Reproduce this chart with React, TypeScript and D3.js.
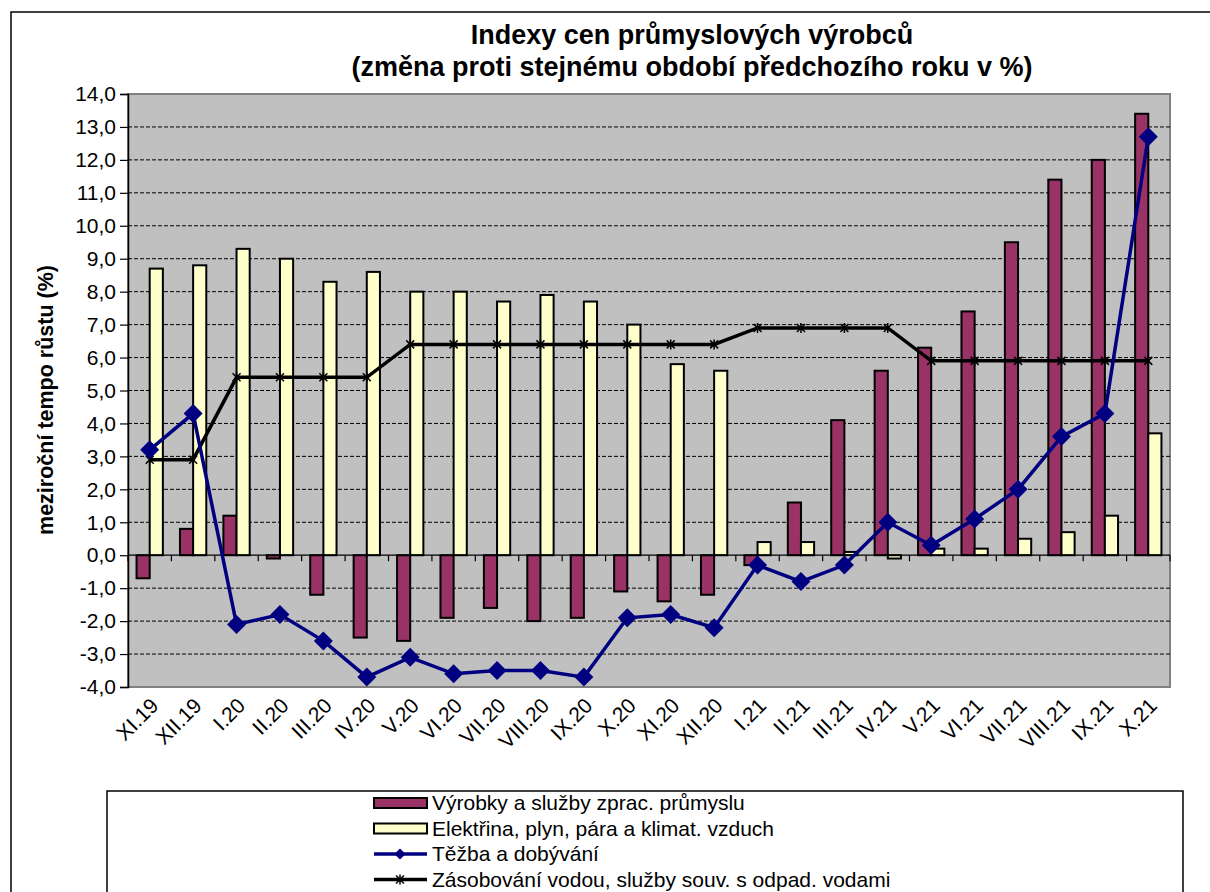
import { useEffect, useRef } from 'react'
import * as d3 from 'd3'

const months = [
  'XI.19', 'XII.19', 'I.20', 'II.20', 'III.20', 'IV.20', 'V.20', 'VI.20',
  'VII.20', 'VIII.20', 'IX.20', 'X.20', 'XI.20', 'XII.20', 'I.21', 'II.21',
  'III.21', 'IV.21', 'V.21', 'VI.21', 'VII.21', 'VIII.21', 'IX.21', 'X.21',
]
const vyrobky = [-0.7, 0.8, 1.2, -0.1, -1.2, -2.5, -2.6, -1.9, -1.6, -2.0, -1.9, -1.1, -1.4, -1.2, -0.3, 1.6, 4.1, 5.6, 6.3, 7.4, 9.5, 11.4, 12.0, 13.4]
const elektrina = [8.7, 8.8, 9.3, 9.0, 8.3, 8.6, 8.0, 8.0, 7.7, 7.9, 7.7, 7.0, 5.8, 5.6, 0.4, 0.4, 0.1, -0.1, 0.2, 0.2, 0.5, 0.7, 1.2, 3.7]
const tezba = [3.2, 4.3, -2.1, -1.8, -2.6, -3.7, -3.1, -3.6, -3.5, -3.5, -3.7, -1.9, -1.8, -2.2, -0.3, -0.8, -0.3, 1.0, 0.3, 1.1, 2.0, 3.6, 4.3, 12.7]
const zasobovani = [2.9, 2.9, 5.4, 5.4, 5.4, 5.4, 6.4, 6.4, 6.4, 6.4, 6.4, 6.4, 6.4, 6.4, 6.9, 6.9, 6.9, 6.9, 5.9, 5.9, 5.9, 5.9, 5.9, 5.9]
const yTicks = d3.range(-4, 15, 1)
const legendLabels = [
  'Výrobky a služby zprac. průmyslu',
  'Elektřina, plyn, pára a klimat. vzduch',
  'Těžba a dobývání',
  'Zásobování vodou, služby souv. s odpad. vodami',
]

const FONT = '"Liberation Sans", Arial, sans-serif'
const MAROON = '#993366'
const CREAM = '#FFFFCC'
const NAVY = '#000080'

const App = () => {
  const ref = useRef<SVGSVGElement>(null)

  useEffect(() => {
    if (!ref.current) return
    const svg = d3.select(ref.current)
    svg.selectAll('*').remove()

    const left = 128, right = 1170, top = 94, bottom = 687

    // rámeček grafu
    svg.append('rect')
      .attr('x', 11).attr('y', 12).attr('width', 1220).attr('height', 900)
      .attr('fill', 'white').attr('stroke', 'black').attr('stroke-width', 1.5)

    // nadpis
    const title = svg.append('text')
      .attr('text-anchor', 'middle')
      .style('font-family', FONT).style('font-weight', 'bold').style('font-size', '27px')
    title.append('tspan').attr('x', 692).attr('y', 44).text('Indexy cen průmyslových výrobců')
    title.append('tspan').attr('x', 692).attr('y', 76).text('(změna proti stejnému období předchozího roku v %)')

    const x = d3.scaleBand<string>().domain(months).range([left, right])
    const y = d3.scaleLinear().domain([-4, 14]).range([bottom, top])
    const inner = d3.scaleBand<string>().domain(['a', 'b']).range([0, x.bandwidth()]).paddingOuter(0.65)
    const cx = (i: number) => (x(months[i]) || 0) + x.bandwidth() / 2

    // plocha grafu
    svg.append('rect')
      .attr('x', left).attr('y', top).attr('width', right - left).attr('height', bottom - top)
      .attr('fill', '#C0C0C0').attr('stroke', '#808080').attr('stroke-width', 2)

    // mřížka
    svg.selectAll('.grid')
      .data(yTicks.filter(d => d !== 0 && d !== -4 && d !== 14))
      .enter()
      .append('line')
      .attr('x1', left).attr('x2', right)
      .attr('y1', d => y(d)).attr('y2', d => y(d))
      .attr('stroke', 'black').attr('stroke-width', 1).attr('stroke-dasharray', '4,2')

    // sloupce
    const bars = [
      { key: 'a', values: vyrobky, fill: MAROON },
      { key: 'b', values: elektrina, fill: CREAM },
    ]
    bars.forEach(s => {
      svg.append('g').selectAll('rect')
        .data(s.values)
        .enter()
        .append('rect')
        .attr('x', (_, i) => (x(months[i]) || 0) + (inner(s.key) || 0))
        .attr('y', d => y(Math.max(0, d)))
        .attr('width', inner.bandwidth())
        .attr('height', d => Math.abs(y(d) - y(0)))
        .attr('fill', s.fill).attr('stroke', 'black').attr('stroke-width', 2)
    })

    // osa x v nule
    svg.append('line')
      .attr('x1', left).attr('x2', right).attr('y1', y(0)).attr('y2', y(0))
      .attr('stroke', 'black').attr('stroke-width', 1.2)
    svg.selectAll('.xtick')
      .data(d3.range(months.length + 1))
      .enter()
      .append('line')
      .attr('x1', i => left + i * x.step()).attr('x2', i => left + i * x.step())
      .attr('y1', y(0)).attr('y2', y(0) + 6)
      .attr('stroke', 'black').attr('stroke-width', 1.2)

    // osa y
    const yAxis = svg.append('g')
      .attr('transform', `translate(${left},0)`)
      .call(d3.axisLeft(y).tickValues(yTicks).tickSize(8).tickPadding(4)
        .tickFormat(d => d3.format('.1f')(d as number).replace('.', ',').replace('−', '-')))
    yAxis.select('.domain').attr('stroke', 'black').attr('stroke-width', 1.5)
    yAxis.selectAll('line').attr('stroke', 'black').attr('stroke-width', 1.2)
    yAxis.selectAll('text')
      .style('font-family', FONT).style('font-size', '21px').attr('fill', 'black')

    // popisky osy x
    svg.append('g').selectAll('text')
      .data(months)
      .enter()
      .append('text')
      .attr('transform', (_, i) => `translate(${cx(i) + 10},${bottom + 20}) rotate(-45)`)
      .attr('text-anchor', 'end')
      .style('font-family', FONT).style('font-size', '21px')
      .text(d => d)

    // název osy y
    svg.append('text')
      .attr('transform', `translate(53,400) rotate(-90)`)
      .attr('text-anchor', 'middle')
      .style('font-family', FONT).style('font-weight', 'bold').style('font-size', '21.5px')
      .text('meziroční tempo růstu (%)')

    // čáry
    const line = d3.line<number>().x((_, i) => cx(i)).y(d => y(d))
    svg.append('path').attr('d', line(zasobovani))
      .attr('fill', 'none').attr('stroke', 'black').attr('stroke-width', 3.5)
    const star = (g: d3.Selection<SVGGElement, unknown, null, undefined>, px: number, py: number) => {
      g.append('path')
        .attr('d', `M${px - 4},${py - 4}L${px + 4},${py + 4}M${px - 4},${py + 4}L${px + 4},${py - 4}M${px},${py - 5}L${px},${py + 5}`)
        .attr('stroke', 'black').attr('stroke-width', 1.5)
    }
    const starG = svg.append('g')
    zasobovani.forEach((d, i) => star(starG, cx(i), y(d)))

    svg.append('path').attr('d', line(tezba))
      .attr('fill', 'none').attr('stroke', NAVY).attr('stroke-width', 3.5)
    const diamond = d3.symbol().type(d3.symbolDiamond2).size(230)
    svg.append('g').selectAll('path')
      .data(tezba)
      .enter()
      .append('path')
      .attr('d', diamond)
      .attr('transform', (d, i) => `translate(${cx(i)},${y(d)})`)
      .attr('fill', NAVY)

    // legenda
    svg.append('rect')
      .attr('x', 107).attr('y', 791).attr('width', 1076).attr('height', 130)
      .attr('fill', 'white').attr('stroke', 'black').attr('stroke-width', 1.5)
    const lg = svg.append('g')
    legendLabels.forEach((label, i) => {
      const ly = 803 + i * 25.5
      if (i < 2) {
        lg.append('rect')
          .attr('x', 374).attr('y', ly - 5).attr('width', 53).attr('height', 10)
          .attr('fill', i === 0 ? MAROON : CREAM).attr('stroke', 'black').attr('stroke-width', 2)
      } else if (i === 2) {
        lg.append('line').attr('x1', 374).attr('x2', 427).attr('y1', ly).attr('y2', ly)
          .attr('stroke', NAVY).attr('stroke-width', 3.5)
        lg.append('path').attr('d', d3.symbol().type(d3.symbolDiamond2).size(80)())
          .attr('transform', `translate(400,${ly})`).attr('fill', NAVY)
      } else {
        lg.append('line').attr('x1', 374).attr('x2', 427).attr('y1', ly).attr('y2', ly)
          .attr('stroke', 'black').attr('stroke-width', 3.5)
        star(lg as any, 400, ly)
      }
      lg.append('text')
        .attr('x', 432).attr('y', ly + 7)
        .style('font-family', FONT).style('font-size', '21px')
        .text(label)
    })
  }, [])

  return (
    <svg
      ref={ref}
      width={1210}
      height={892}
      style={{ position: 'absolute', left: 0, top: 0, display: 'block', background: 'white' }}
    />
  )
}

export default App
